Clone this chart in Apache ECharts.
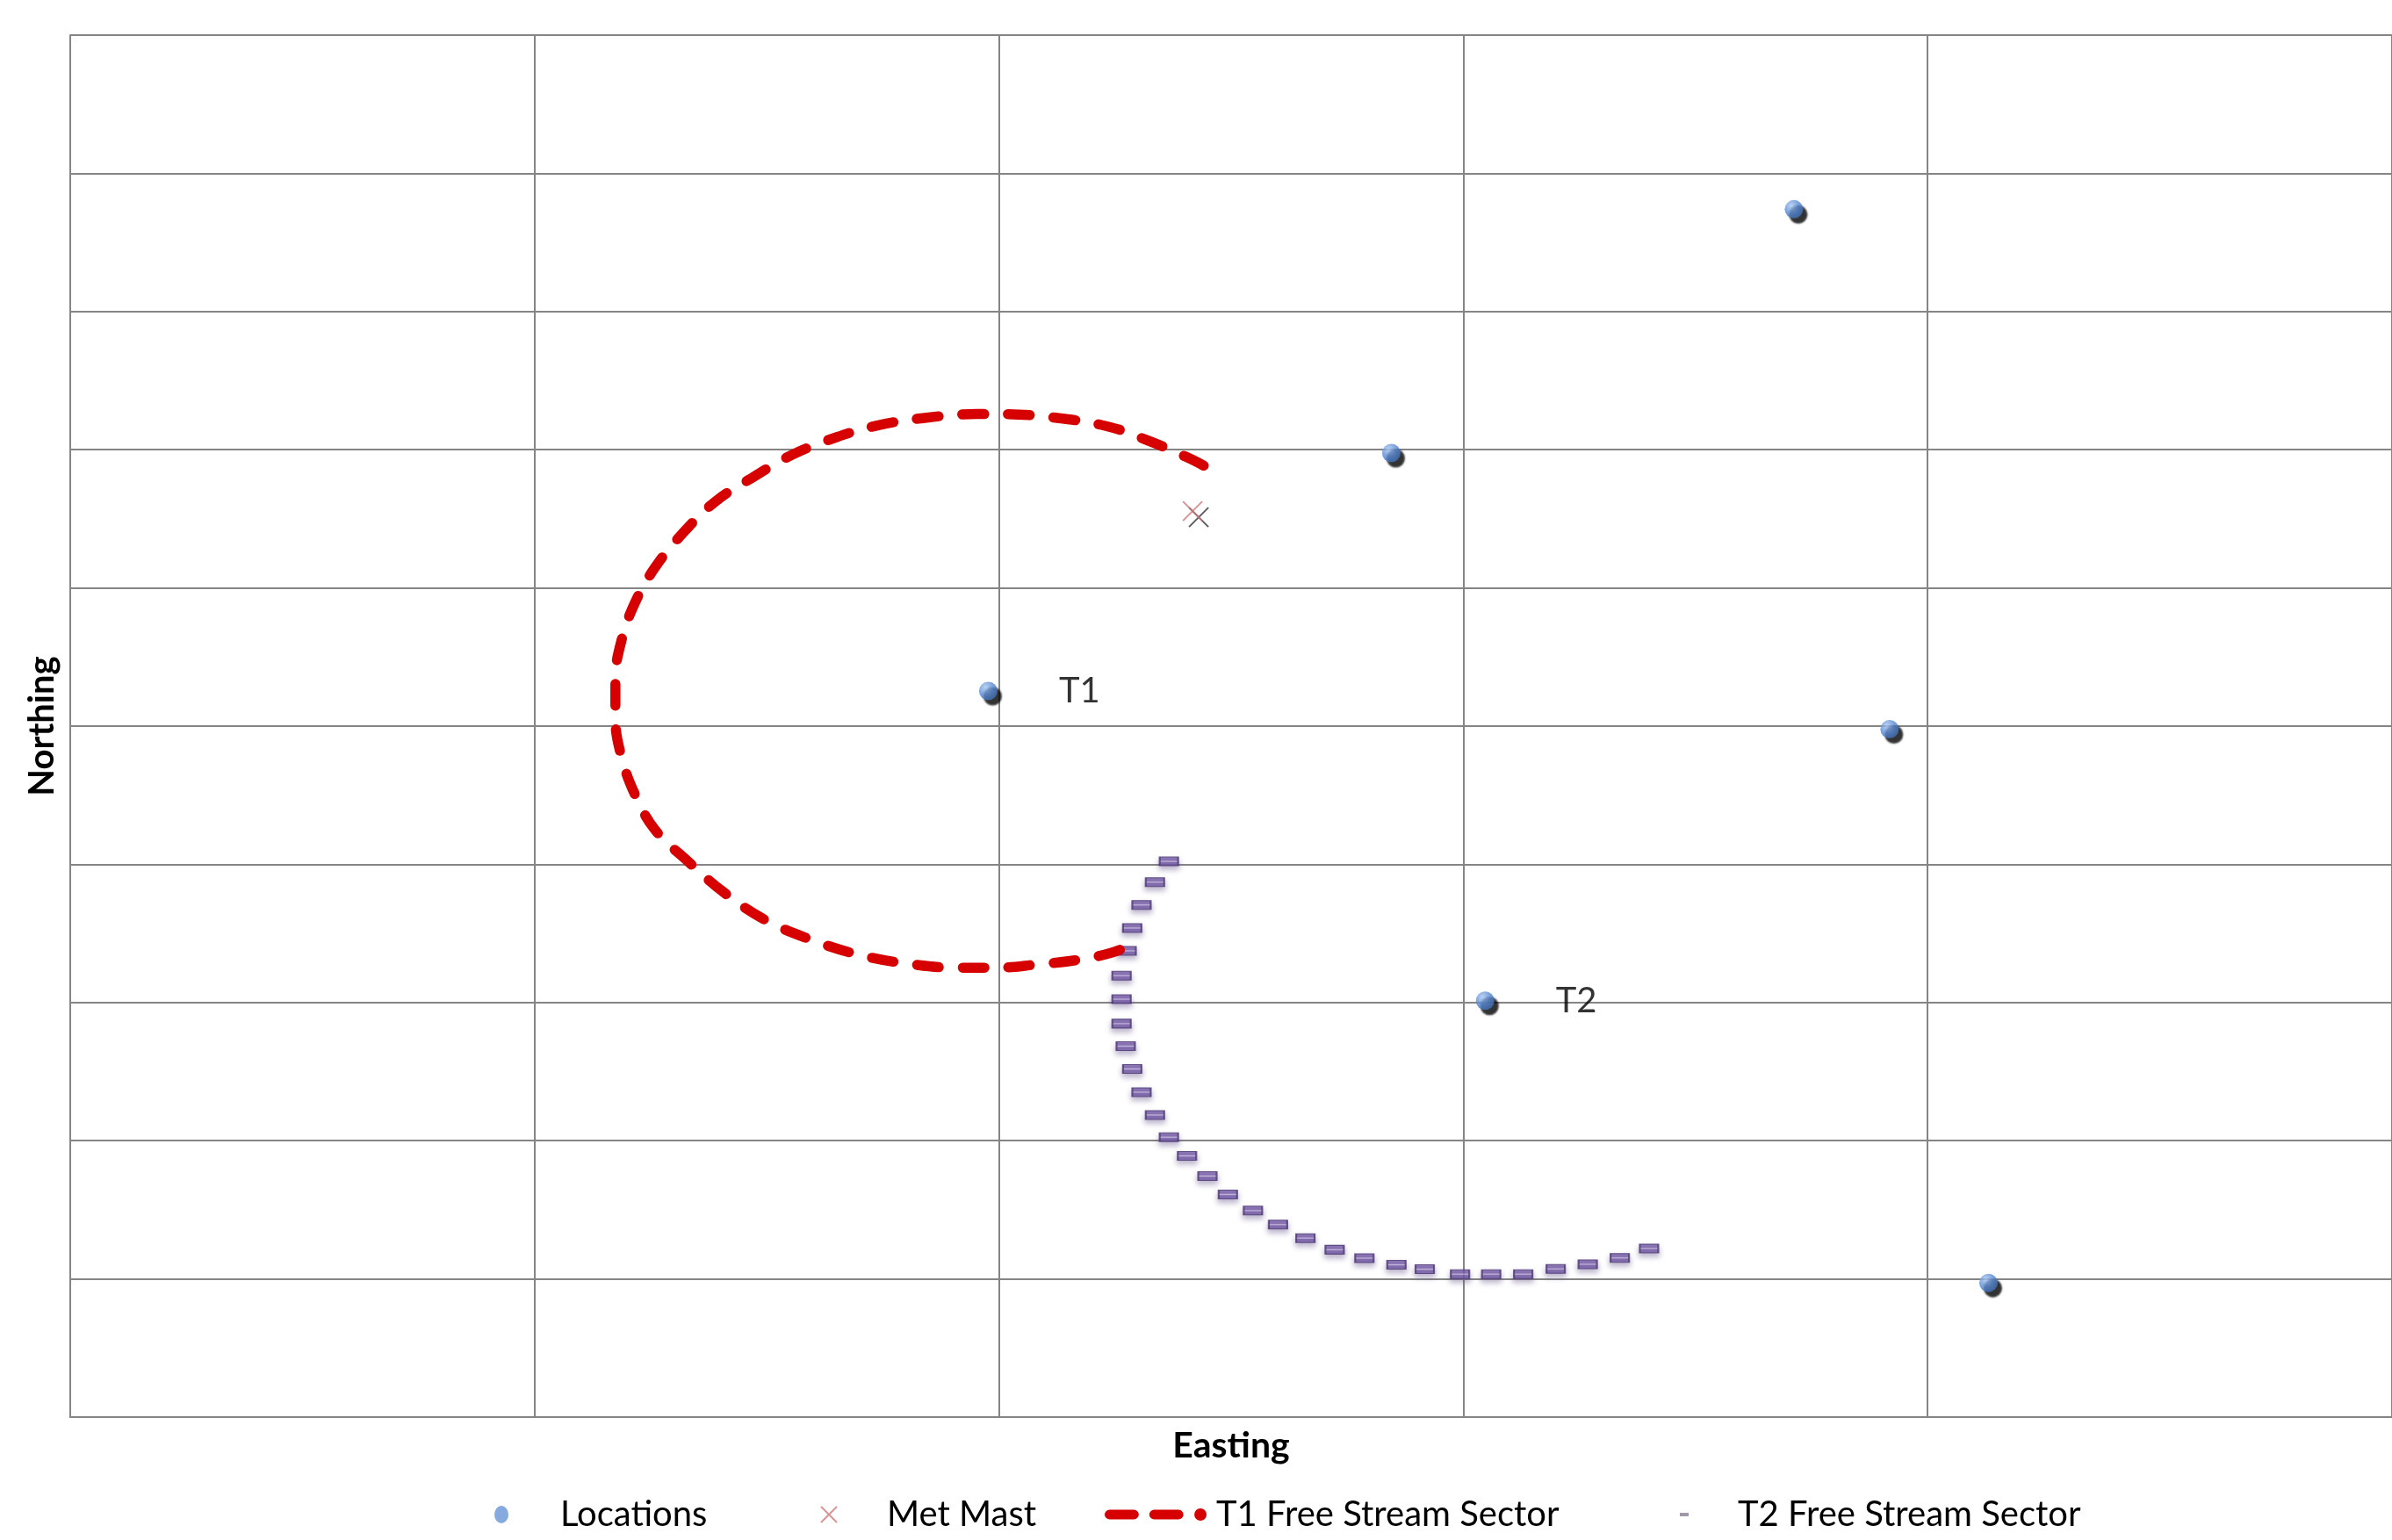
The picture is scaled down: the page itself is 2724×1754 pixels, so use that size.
<!DOCTYPE html>
<html><head><meta charset="utf-8">
<script src="https://cdn.jsdelivr.net/npm/echarts@6/dist/echarts.min.js"></script>
<style>html,body{margin:0;padding:0;background:#fff}#c{width:2724px;height:1754px}</style>
</head><body><div id="c"></div>
<script>
// Locations (turbines and other points)
const locX = [3.712, 2.845, 1.977, 3.918, 3.047, 4.131];
const locY = [8.740, 6.976, 5.254, 4.978, 3.013, 0.971];
const locLabels = ['', '', 'T1', '', 'T2', ''];
// Met mast
const mastX = [2.417];
const mastY = [6.556];
// T1 free stream sector (dashed curve)
const t1X = [2.441, 2.402, 2.324, 2.238, 2.125, 2.000, 1.952, 1.840, 1.736, 1.650, 1.555, 1.468, 1.390, 1.321, 1.260, 1.217, 1.187, 1.174, 1.174, 1.187, 1.217, 1.260, 1.330, 1.407, 1.494, 1.589, 1.693, 1.805, 1.909, 1.996, 2.082, 2.169, 2.238, 2.290];
const t1Y = [6.885, 6.950, 7.062, 7.165, 7.230, 7.258, 7.258, 7.230, 7.174, 7.090, 6.964, 6.796, 6.627, 6.403, 6.151, 5.899, 5.619, 5.339, 5.059, 4.779, 4.499, 4.247, 4.022, 3.798, 3.602, 3.462, 3.350, 3.280, 3.252, 3.252, 3.275, 3.308, 3.356, 3.420];
// T2 free stream sector (markers)
const t2X = [2.366, 2.336, 2.307, 2.287, 2.275, 2.264, 2.264, 2.264, 2.273, 2.287, 2.307, 2.336, 2.366, 2.405, 2.449, 2.493, 2.547, 2.601, 2.660, 2.723, 2.787, 2.856, 2.917, 2.993, 3.060, 3.129, 3.199, 3.268, 3.337, 3.400];
const t2Y = [4.021, 3.871, 3.706, 3.539, 3.374, 3.194, 3.024, 2.847, 2.684, 2.519, 2.351, 2.186, 2.025, 1.890, 1.744, 1.611, 1.494, 1.393, 1.295, 1.211, 1.150, 1.102, 1.070, 1.034, 1.034, 1.034, 1.072, 1.106, 1.152, 1.220];
const seriesNames = ['Locations', 'Met Mast', 'T1 Free Stream Sector', 'T2 Free Stream Sector'];
const xAxisTitle = 'Easting';
const yAxisTitle = 'Northing';

const FONT = 'Lato, "Open Sans", sans-serif';
const GRID = '#858585';
const RED = '#d60000';
const chart = echarts.init(document.getElementById('c'), null, {renderer: 'canvas'});

const noShadow = {shadowColor: 'rgba(0,0,0,0)', shadowBlur: 0, shadowOffsetX: 0, shadowOffsetY: 0};
const purpleFill = new echarts.graphic.LinearGradient(0, 0, 0, 1, [
  {offset: 0, color: '#7358a6'}, {offset: 0.38, color: '#7358a6'},
  {offset: 0.5, color: '#c4b6e0'}, {offset: 0.62, color: '#7358a6'}, {offset: 1, color: '#7358a6'}
]);
const blueFill = new echarts.graphic.RadialGradient(0.35, 0.3, 0.8, [
  {offset: 0, color: '#a9c6f0'}, {offset: 0.5, color: '#5b8cd5'}, {offset: 1, color: '#3a69b0'}
]);

// legend icons (shape only; bounding box set by the leading moves)
const iconLoc = 'path://M0,0M70,20M0,10a8,10 0 1,0 16,0a8,10 0 1,0 -16,0z';
const iconMast = 'path://M0,0M70,20M0,1L18,19M18,1L0,19';
const iconT1 = 'path://M0,0M122,20M5,4.5h28a5.5,5.5 0 0,1 0,11h-28a5.5,5.5 0 0,1 0,-11zM56,4.5h28a5.5,5.5 0 0,1 0,11h-28a5.5,5.5 0 0,1 0,-11zM116,10a7,7 0 1,0 -14,0a7,7 0 1,0 14,0z';
const iconT2 = 'path://M0,0M61,20M0,8h10v4h-10z';

const legendText = {fontFamily: FONT, fontSize: 40, color: '#000'};
function oneLegend(left, width, item) {
  return {left: left, top: 1705, padding: 0, itemWidth: width, itemHeight: 20,
    textStyle: legendText, selectedMode: false, data: [item]};
}

const option = {
  animation: false,
  backgroundColor: '#ffffff',
  textStyle: {fontFamily: FONT},
  grid: {left: 80, top: 40, right: -10, bottom: 140, containLabel: false},
  xAxis: {
    type: 'value', min: 0, max: 5, interval: 1,
    name: xAxisTitle, nameLocation: 'middle', nameGap: 12,
    nameTextStyle: {fontFamily: FONT, fontWeight: 'bold', fontSize: 41, color: '#000', verticalAlign: 'top'},
    axisLine: {show: true, lineStyle: {color: GRID, width: 2}},
    axisTick: {show: false}, axisLabel: {show: false},
    splitLine: {show: true, lineStyle: {color: GRID, width: 2}}
  },
  yAxis: {
    type: 'value', min: 0, max: 10, interval: 1,
    name: yAxisTitle, nameLocation: 'middle', nameGap: 12,
    nameTextStyle: {fontFamily: FONT, fontWeight: 'bold', fontSize: 40, color: '#000', verticalAlign: 'bottom'},
    axisLine: {show: true, lineStyle: {color: GRID, width: 2}},
    axisTick: {show: false}, axisLabel: {show: false},
    splitLine: {show: true, lineStyle: {color: GRID, width: 2}}
  },
  legend: [
    oneLegend(563, 70, {name: seriesNames[0], icon: iconLoc, itemStyle: Object.assign({color: '#6894d6', borderWidth: 0}, noShadow)}),
    oneLegend(934, 70, {name: seriesNames[1], icon: iconMast, itemStyle: Object.assign({color: '#d07a7a', borderColor: '#d07a7a', borderWidth: 2}, noShadow)}),
    oneLegend(1258, 122, {name: seriesNames[2], icon: iconT1, itemStyle: Object.assign({color: RED, borderWidth: 0}, noShadow)}),
    oneLegend(1913, 61, {name: seriesNames[3], icon: iconT2, itemStyle: Object.assign({color: '#8a7f95', borderWidth: 0}, noShadow)})
  ],
  series: [
    {
      name: seriesNames[0], type: 'scatter', symbol: 'circle', symbolSize: 21, z: 4,
      itemStyle: {color: blueFill, shadowColor: 'rgba(0,0,0,1)', shadowBlur: 2, shadowOffsetX: 5, shadowOffsetY: 6},
      label: {show: false, position: 'right', distance: 70, fontFamily: FONT, fontSize: 40, color: '#000'},
      data: locX.map((x, i) => ({
        value: [x, locY[i]],
        label: {show: !!locLabels[i], formatter: locLabels[i]}
      }))
    },
    {
      name: seriesNames[1], type: 'scatter', z: 4,
      symbol: 'path://M0,0L10,10M10,0L0,10', symbolSize: 22,
      itemStyle: {color: '#d07a7a', borderColor: '#d07a7a', borderWidth: 2,
        shadowColor: 'rgba(45,45,45,0.95)', shadowBlur: 0, shadowOffsetX: 7, shadowOffsetY: 7},
      data: mastX.map((x, i) => [x, mastY[i]])
    },
    {
      name: seriesNames[2], type: 'line', smooth: 0.4, symbol: 'none', showSymbol: false, z: 3,
      itemStyle: {color: RED},
      lineStyle: {color: RED, width: 11.5, type: [25, 27], cap: 'round'},
      data: t1X.map((x, i) => [x, t1Y[i]])
    },
    {
      name: seriesNames[3], type: 'scatter', symbol: 'rect', symbolSize: [21, 10], z: 2,
      itemStyle: {color: purpleFill, borderColor: '#4a3870', borderWidth: 1.5,
        shadowColor: 'rgba(90,70,130,0.5)', shadowBlur: 6, shadowOffsetY: 4},
      data: t2X.map((x, i) => [x, t2Y[i]])
    }
  ]
};
chart.setOption(option);
</script>
</body></html>
